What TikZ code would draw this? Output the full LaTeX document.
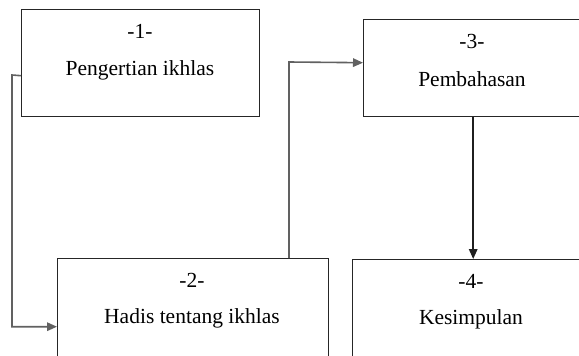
\documentclass[tikz,border=0pt]{standalone}
\usepackage{fontspec}
\setmainfont{Liberation Serif}
\usetikzlibrary{arrows.meta}
\begin{document}
\begin{tikzpicture}[x=1pt,y=-1pt,
  box/.style={draw=black!85,line width=1.4pt,anchor=north west,inner sep=0pt},
  lbl/.style={font=\fontsize{21.5}{24}\selectfont,text=black,inner sep=0pt},
  gconn/.style={draw=black!62,line width=1.6pt,-{Triangle[length=10pt,width=8.5pt]}},
  bconn/.style={draw=black!88,line width=1.6pt,-{Triangle[length=10pt,width=8.5pt]}}]
\useasboundingbox (0,0) rectangle (579,356);
\clip (0,0) rectangle (579,356);
\node[box,minimum width=238pt,minimum height=107pt] (b1) at (21,9) {};
\node[box,minimum width=219pt,minimum height=97pt] (b3) at (363,19) {};
\node[box,minimum width=271pt,minimum height=120pt] (b2) at (57,258) {};
\node[box,minimum width=238pt,minimum height=120pt] (b4) at (352,259) {};
\node[lbl] (t1a) at (140,31) {-1-};
\node[lbl] (t1b) at (140,70) {Pengertian ikhlas};
\node[lbl] (t3a) at (472,41) {-3-};
\node[lbl] (t3b) at (472,79) {Pembahasan};
\node[lbl] (t2a) at (192,280) {-2-};
\node[lbl] (t2b) at (192,318) {Hadis tentang ikhlas};
\node[lbl] (t4a) at (471,281) {-4-};
\node[lbl] (t4b) at (471,319) {Kesimpulan};
\coordinate (k1) at (12,75);
\coordinate (k2) at (289,62);
\draw[gconn] ([yshift=-12.5pt]b1.west) -- (k1) |- ([yshift=-8pt]b2.west);
\draw[gconn] ([xshift=232pt]b2.north west) -- (k2) -- ([yshift=5.5pt]b3.west);
\draw[bconn] (b3.south) -- (b3.south |- b4.north);
\end{tikzpicture}
\end{document}
